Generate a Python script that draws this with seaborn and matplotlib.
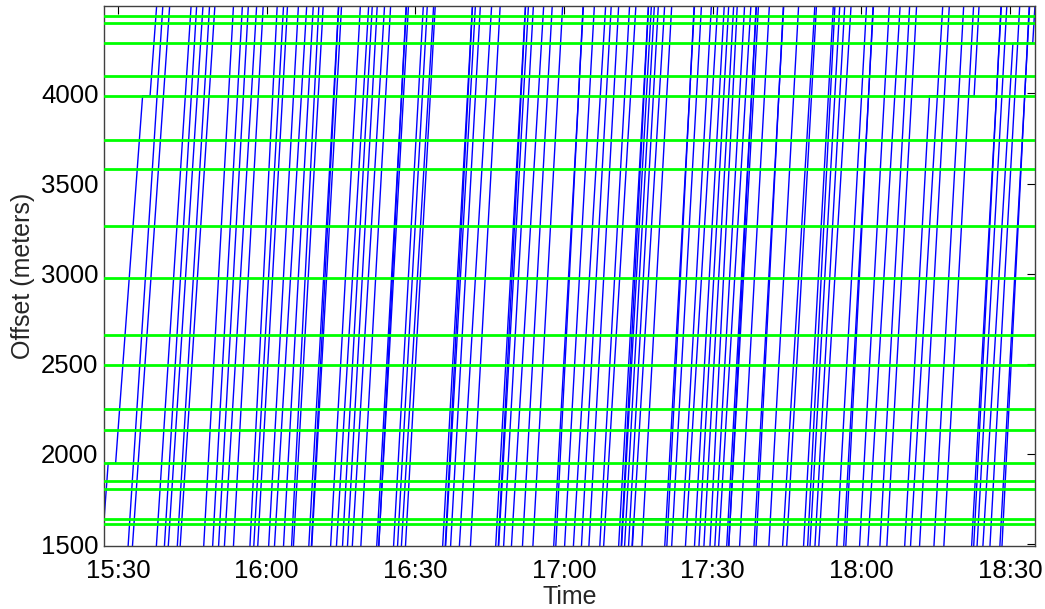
"""
Time-space diagram: vehicle trajectories along the corridor with signal locations.
"""

import numpy as np
import pandas as pd
import matplotlib
matplotlib.use("Agg")
import matplotlib.pyplot as plt
import seaborn as sns

# signal locations along the corridor (meters)
signal_offsets = [4431, 4388, 4278, 4099, 3987, 3741, 3578, 3263, 2974,
                  2659, 2494, 2250, 2134, 1948, 1849, 1806, 1640, 1612]

# minutes after 15:00 at which each vehicle passes the 2830 m mark
pass_times = [
    31.9, 35.2, 36.3, 40.9, 42.3, 43.3, 44.9, 45.7, 50.0, 51.8,
    53.0, 54.4, 56.0, 59.1, 60.1, 60.9, 63.1, 64.5, 66.1, 67.5,
    68.1, 71.2, 71.5, 71.8, 75.6, 77.0, 78.0, 79.0, 80.2, 81.7,
    84.9, 85.1, 85.3, 88.3, 89.1, 90.1, 90.7, 98.2, 98.5, 98.8,
    99.8, 101.8, 103.8, 108.9, 109.2, 109.5, 110.5, 112.3, 114.3, 116.4,
    120.6, 120.8, 122.8, 124.8, 126.2, 127.7, 129.9, 130.9, 133.7, 134.0,
    134.3, 134.9, 135.7, 136.7, 138.4, 143.0, 143.2, 144.4, 146.4, 147.4,
    149.0, 149.9, 150.9, 151.9, 153.1, 154.1, 155.5, 155.7, 155.9, 158.1,
    161.0, 161.2, 164.0, 167.0, 167.6, 171.0, 171.6, 172.3, 173.3, 174.3,
    177.7, 179.1, 179.3, 182.3, 184.2, 186.4, 187.8, 191.4, 192.8, 194.4,
    197.3, 199.3, 204.9, 205.1, 206.0, 207.4, 208.6, 210.6, 210.8,
]

# minutes each vehicle needs to cross the plotted stretch (without long stops)
trip_minutes = [
    8.0, 7.0, 7.5, 7.0, 6.5, 7.0, 6.5, 7.0, 6.0, 6.0,
    6.0, 6.5, 6.0, 5.5, 6.0, 6.0, 6.0, 6.5, 6.0, 5.5,
    6.0, 6.0, 5.5, 6.0, 6.0, 6.5, 6.0, 6.0, 6.5, 6.0,
    6.0, 5.5, 6.0, 6.0, 6.0, 6.5, 6.0, 6.0, 5.5, 6.0,
    6.0, 6.5, 6.0, 6.0, 5.5, 6.0, 6.0, 6.5, 6.0, 6.0,
    6.0, 5.5, 6.0, 6.5, 6.0, 6.0, 6.0, 6.5, 6.0, 5.5,
    6.0, 6.0, 6.0, 6.5, 6.0, 6.0, 5.5, 6.0, 6.0, 6.5,
    6.0, 6.0, 6.0, 5.5, 6.0, 6.5, 6.0, 5.5, 6.0, 6.0,
    6.0, 5.5, 6.0, 6.5, 6.0, 6.0, 5.5, 6.0, 6.0, 6.5,
    6.0, 6.0, 5.5, 6.0, 6.5, 6.0, 6.0, 6.0, 6.5, 6.0,
    6.0, 6.0, 6.0, 5.5, 6.0, 6.5, 6.0, 6.0, 5.5,
]

# long stops: vehicle index, offset (m), duration (minutes)
stop_vehicle = [0, 0, 68, 97, 105]
stop_offset = [1948, 3987, 1640, 3987, 4278]
stop_minutes = [1.5, 1.5, 10.0, 9.0, 4.0]

tick_minutes = [30, 60, 90, 120, 150, 180, 210]
tick_labels = ['15:30', '16:00', '16:30', '17:00', '17:30', '18:00', '18:30']
offset_ticks = [1500, 2000, 2500, 3000, 3500, 4000]

REF_OFFSET = 2830
Y_LOW, Y_HIGH = 1489, 4485


def build_trajectories() -> pd.DataFrame:
    """Turn pass times, trip times and stops into polyline vertices."""
    rows = []
    span = Y_HIGH - Y_LOW
    for v, (t_ref, trip) in enumerate(zip(pass_times, trip_minutes)):
        rate = trip / span
        stops = sorted((o, d) for sv, o, d in zip(stop_vehicle, stop_offset, stop_minutes) if sv == v)
        # delay picked up below the reference offset happens before passing it
        shift = -sum(d for o, d in stops if o < REF_OFFSET)
        pts = [(t_ref + (Y_LOW - 20 - REF_OFFSET) * rate + shift, Y_LOW - 20)]
        for o, d in stops:
            t_arr = t_ref + (o - REF_OFFSET) * rate + shift
            pts.append((t_arr, o))
            shift += d
            pts.append((t_arr + d, o))
        pts.append((t_ref + (Y_HIGH + 20 - REF_OFFSET) * rate + shift, Y_HIGH + 20))
        for t, y in pts:
            rows.append({'vehicle': v, 'time': t, 'offset': y})
    return pd.DataFrame(rows)


sns.set_style('white')
plt.rcParams['font.family'] = ['Liberation Sans', 'DejaVu Sans']

fig = plt.figure(figsize=(10.45, 6.09), dpi=100)
ax = fig.add_axes([104 / 1045, 63 / 609, 931 / 1045, 540 / 609])

traj = build_trajectories()
sns.lineplot(data=traj, x='time', y='offset', units='vehicle', estimator=None,
             sort=False, color='#0000ff', linewidth=1.0, ax=ax, legend=False)

for y in signal_offsets:
    ax.axhline(y, color='#00ff00', linewidth=2.0, zorder=5)

ax.set_xlim(27.2, 215.0)
ax.set_ylim(Y_LOW, Y_HIGH)
ax.set_xticks(tick_minutes)
ax.set_xticklabels(tick_labels)
ax.set_yticks(offset_ticks)
ax.tick_params(direction='in', top=True, right=True, length=6, width=0.8,
               labelsize=18.5, colors='black')
ax.tick_params(axis='x', pad=9)
ax.tick_params(axis='y', pad=4)
for s in ax.spines.values():
    s.set_color('#404040')
    s.set_linewidth(1.0)
ax.set_xlabel('Time', fontsize=18, labelpad=2)
ax.set_ylabel('Offset (meters)', fontsize=18, labelpad=4)

fig.savefig('out.png', dpi=100)
